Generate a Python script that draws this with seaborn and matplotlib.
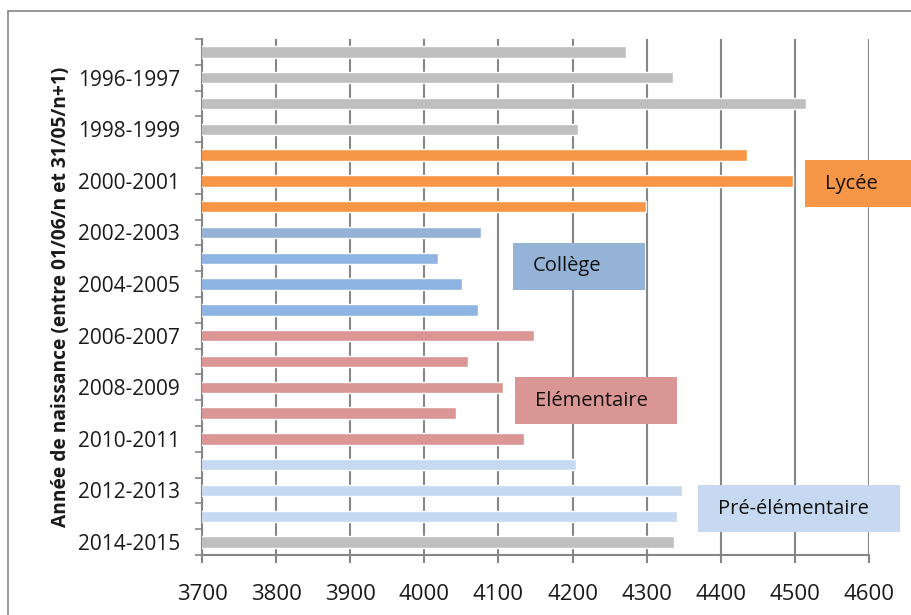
import numpy as np
import pandas as pd
import matplotlib
matplotlib.use("Agg")
import matplotlib.pyplot as plt
import seaborn as sns
from matplotlib.patches import Rectangle
from matplotlib.ticker import FixedLocator

# données
annees = ["1995-1996", "1996-1997", "1997-1998", "1998-1999", "1999-2000",
          "2000-2001", "2001-2002", "2002-2003", "2003-2004", "2004-2005",
          "2005-2006", "2006-2007", "2007-2008", "2008-2009", "2009-2010",
          "2010-2011", "2011-2012", "2012-2013", "2013-2014", "2014-2015"]
effectifs = [4272, 4335, 4515, 4207, 4436, 4498, 4299,
             4077, 4018, 4051, 4072,
             4148, 4059, 4106, 4043, 4134,
             4205, 4348, 4341, 4337]
couleurs = ["#BFBFBF"] * 4 + ["#F79646"] * 3 + ["#95B3D7"] + ["#8DB4E2"] * 3 \
    + ["#DA9694"] * 5 + ["#C5D9F1"] * 3 + ["#BFBFBF"]
niveaux = ["Lycée", "Collège", "Elémentaire", "Pré-élémentaire"]
couleurs_niveaux = ["#F79646", "#95B3D7", "#DA9694", "#C6D9F1"]

df = pd.DataFrame({"annee": annees, "effectif": effectifs})

sns.set_theme(style="white")
plt.rcParams['font.family'] = ['Open Sans', 'DejaVu Sans']

W, H = 911, 615
fig = plt.figure(figsize=(W / 100, H / 100), dpi=100)
ax = fig.add_axes([202 / W, 1 - 555 / H, (869 - 202) / W, (555 - 39) / H])

sns.barplot(data=df, x="effectif", y="annee", hue="annee", palette=couleurs,
            legend=False, width=0.44, saturation=1, ax=ax, zorder=3)

ax.set_xlim(3700, 4600)
ax.set_ylim(19.5, -0.5)
ax.set_xticks(np.arange(3700, 4601, 100))
ax.xaxis.grid(True, color="#868686", linewidth=1.5, zorder=0)
ax.yaxis.grid(False)

# étiquettes une année sur deux
ax.set_yticks(range(len(annees)))
ax.set_yticklabels([a if i % 2 == 1 else "" for i, a in enumerate(annees)])
ax.yaxis.set_minor_locator(FixedLocator(np.arange(-0.5, len(annees), 1)))
ax.tick_params(axis="y", which="major", length=0, pad=16, labelsize=15,
               colors="#1a1a1a")
ax.tick_params(axis="y", which="minor", length=5, width=1.2, color="#868686",
               direction="out", left=True)
ax.tick_params(axis="x", which="major", length=6, width=1.5, color="#868686",
               direction="out", bottom=True, pad=15, labelsize=16,
               labelcolor="#1a1a1a")

for s in ["top", "right"]:
    ax.spines[s].set_visible(False)
for s in ["left", "bottom"]:
    ax.spines[s].set_color("#868686")
    ax.spines[s].set_linewidth(1.5)

ax.set_xlabel("")
ax.set_ylabel("Année de naissance (entre 01/06/n et 31/05/n+1)",
              fontsize=13.8, fontweight="bold", labelpad=5, color="#1a1a1a")

# encadrés des niveaux (pixels de la figure)
boites = [(805, 160, 120, 47), (513, 243, 132, 47),
          (515, 377, 162, 47), (698, 485, 202, 47)]
for nom, c, (x0, y0, w, h) in zip(niveaux, couleurs_niveaux, boites):
    fig.patches.append(Rectangle((x0 / W, 1 - (y0 + h) / H), w / W, h / H,
                                 transform=fig.transFigure, facecolor=c,
                                 edgecolor="none", zorder=5))
    fig.text((x0 + 20) / W, 1 - (y0 + h / 2) / H, nom, fontsize=14.5,
             va="center", ha="left", color="#111111", zorder=6)

# cadre extérieur
fig.patches.append(Rectangle((8 / W, -0.1), 1, 1 - 11 / H + 0.1,
                             transform=fig.transFigure, facecolor="none",
                             edgecolor="#868686", linewidth=1.2, zorder=1))

fig.savefig("out.png", dpi=100)
